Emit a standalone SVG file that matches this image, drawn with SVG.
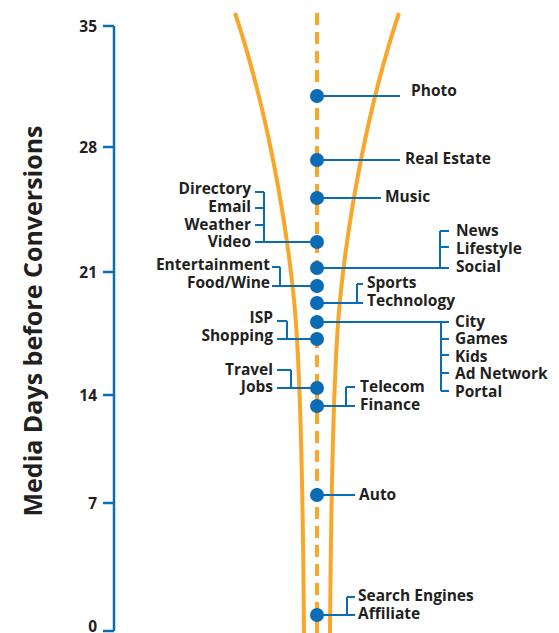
<svg xmlns="http://www.w3.org/2000/svg" width="559" height="633" viewBox="0 0 559 633">
<style>
text{font-family:"Open Sans","Noto Sans","Liberation Sans",sans-serif;font-weight:700;font-size:15.5px;fill:#231f20}
.l{text-anchor:end}
.ax{fill:none;stroke:#0a6cb5;stroke-width:2.5}
.c{fill:none;stroke:#0a6cb5;stroke-width:2}
.dot{fill:#0a6cb5}
.fun{fill:none;stroke:#f9a72b;stroke-width:4}
.title{font-size:25px}
</style>
<rect width="559" height="633" fill="#ffffff"/>
<g id="axis">
<path class="ax" d="M114,26V631M103,26H114M103,147H114M103,272H114M103,395H114M103,503H114M103,631H114"/>
<text class="l" x="97" y="32">35</text>
<text class="l" x="97" y="153">28</text>
<text class="l" x="97" y="278">21</text>
<text class="l" x="97" y="401">14</text>
<text class="l" x="97" y="509">7</text>
<text class="l" x="97" y="632">0</text>
<text class="title" transform="translate(42,321) rotate(-90)" text-anchor="middle">Media Days before Conversions</text>
</g>
<g id="funnel">
<path class="fun" d="M235,13 C265,103 285,210 294,300 C300,360 303,500 304,633"/>
<path class="fun" d="M399,13 C369,103 349,210 340,300 C334,360 331,500 330,633"/>
<path class="fun" d="M317,13V633" stroke-dasharray="12 7"/>
</g>
<g id="connectors">
<path class="c" d="M317,96H400"/>
<path class="c" d="M317,160H400"/>
<path class="c" d="M317,198H381"/>
<path class="c" d="M255,192H264M255,208H264M255,225H264M264,192V242M255,242H317"/>
<path class="c" d="M317,268H449M440,231V268M440,231H449M440,247H449"/>
<path class="c" d="M272,267H280M280,267V286M272,286H317"/>
<path class="c" d="M317,303H363M357,284V303M357,284H363"/>
<path class="c" d="M317,322H449M441,322V391M441,339H449M441,355H449M441,373H449M441,391H449"/>
<path class="c" d="M277,321H287M287,321V339M277,339H317"/>
<path class="c" d="M277,370H291M291,370V388M277,388H317"/>
<path class="c" d="M317,406H355M346,387V406M346,387H355"/>
<path class="c" d="M317,495H355"/>
<path class="c" d="M317,615H355M347,597V615M347,597H355"/>
</g>
<g id="photo"><circle class="dot" cx="317" cy="96" r="7"/><text x="411" y="96">Photo</text></g>
<g id="realestate"><circle class="dot" cx="317" cy="160" r="7"/><text x="405" y="164">Real Estate</text></g>
<g id="music"><circle class="dot" cx="317" cy="198" r="7"/><text x="385" y="202">Music</text></g>
<g id="video"><circle class="dot" cx="317" cy="242" r="7"/>
<text class="l" x="251" y="194">Directory</text>
<text class="l" x="251" y="212">Email</text>
<text class="l" x="251" y="230">Weather</text>
<text class="l" x="251" y="247">Video</text></g>
<g id="social"><circle class="dot" cx="317" cy="268" r="7"/>
<text x="456" y="236">News</text>
<text x="456" y="254">Lifestyle</text>
<text x="456" y="272">Social</text></g>
<g id="food"><circle class="dot" cx="317" cy="286" r="7"/>
<text class="l" x="270" y="270">Entertainment</text>
<text class="l" x="270" y="288">Food/Wine</text></g>
<g id="technology"><circle class="dot" cx="317" cy="303" r="7"/>
<text x="367" y="288">Sports</text>
<text x="367" y="306">Technology</text></g>
<g id="city"><circle class="dot" cx="317" cy="322" r="7"/>
<text x="455" y="327">City</text>
<text x="455" y="344">Games</text>
<text x="455" y="362">Kids</text>
<text x="455" y="379">Ad Network</text>
<text x="455" y="397">Portal</text></g>
<g id="shopping"><circle class="dot" cx="317" cy="339" r="7"/>
<text class="l" x="273" y="323">ISP</text>
<text class="l" x="273" y="341">Shopping</text></g>
<g id="jobs"><circle class="dot" cx="317" cy="388" r="7"/>
<text class="l" x="273" y="375">Travel</text>
<text class="l" x="273" y="392">Jobs</text></g>
<g id="finance"><circle class="dot" cx="317" cy="406" r="7"/>
<text x="360" y="392">Telecom</text>
<text x="360" y="410">Finance</text></g>
<g id="auto"><circle class="dot" cx="317" cy="495" r="7"/><text x="359" y="500">Auto</text></g>
<g id="affiliate"><circle class="dot" cx="317" cy="615" r="7"/>
<text x="358" y="601">Search Engines</text>
<text x="358" y="619">Affiliate</text></g>
</svg>
